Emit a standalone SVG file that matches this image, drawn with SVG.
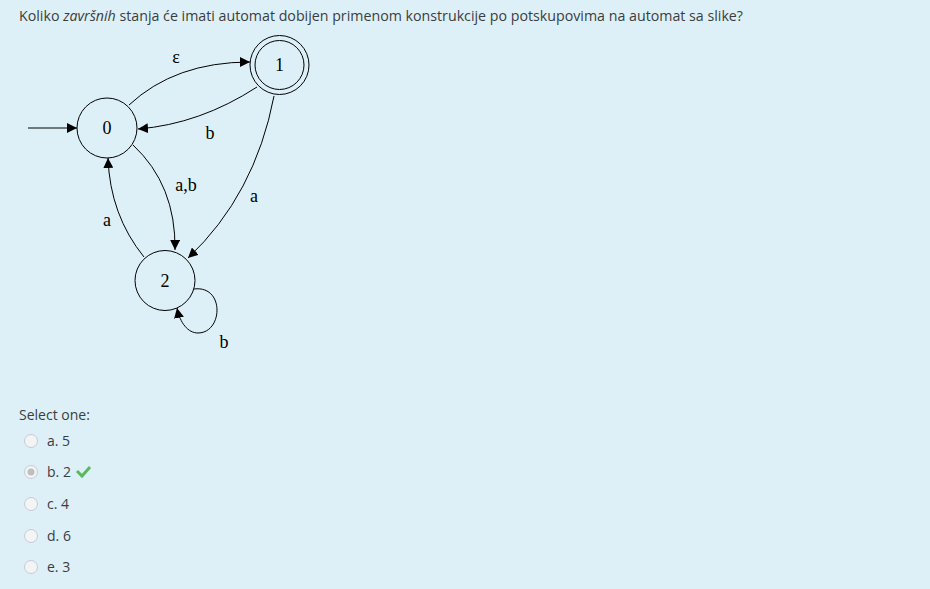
<svg xmlns="http://www.w3.org/2000/svg" width="930" height="589" viewBox="0 0 930 589">
<defs>
<marker id="ah" viewBox="0 0 10 10" refX="10" refY="5" markerWidth="10" markerHeight="10" markerUnits="userSpaceOnUse" orient="auto">
<path d="M0,0 L10,5 L0,10 z" fill="#000"/>
</marker>
</defs>
<style>
.ui{font-family:"Open Sans","Noto Sans","Liberation Sans",sans-serif;fill:#3a3d40}
.st{fill:none;stroke:#000;stroke-width:1}
.lb{font-family:"Liberation Serif","DejaVu Serif",serif;font-size:18px;fill:#000;text-anchor:middle}
.ed{fill:none;stroke:#000;stroke-width:1;marker-end:url(#ah)}
.rd{fill:#f2f4f5;stroke:#c8cbcd;stroke-width:1}
</style>
<rect x="0" y="0" width="930" height="589" fill="#def0f7"/>
<text class="ui" x="19" y="21" font-size="14" textLength="724" lengthAdjust="spacingAndGlyphs">Koliko <tspan font-style="italic">završnih</tspan> stanja će imati automat dobijen primenom konstrukcije po potskupovima na automat sa slike?</text>
<g id="edges">
<path class="ed" d="M28,128 L77,128"/>
<path class="ed" d="M129,105 Q175,62 250,62"/>
<text class="lb" x="176" y="63">ε</text>
<path class="ed" d="M257,87 Q200,124 138,129"/>
<text class="lb" x="210" y="139">b</text>
<path class="ed" d="M133,145 Q176,185 175,250"/>
<text class="lb" x="186" y="191">a,b</text>
<path class="ed" d="M144,257 Q110,215 108,158"/>
<text class="lb" x="107" y="226">a</text>
<path class="ed" d="M274,96 Q255,195 188,258"/>
<text class="lb" x="254" y="202">a</text>
<path class="ed" d="M194,289 C225,285 223,333 198,333 C188,333 180,323 177,308"/>
<text class="lb" x="224" y="348">b</text>
</g>
<g id="node0">
<circle class="st" cx="107" cy="128" r="30"/>
<text class="lb" x="107" y="134">0</text>
</g>
<g id="node1">
<circle class="st" cx="279.5" cy="65" r="29.5"/>
<circle class="st" cx="279.5" cy="65" r="24.5"/>
<text class="lb" x="279.5" y="71">1</text>
</g>
<g id="node2">
<circle class="st" cx="165" cy="280.5" r="30"/>
<text class="lb" x="165" y="287">2</text>
</g>
<text class="ui" x="19" y="420" font-size="14">Select one:</text>
<circle class="rd" cx="31" cy="441" r="6.5"/>
<text class="ui" x="47" y="446" font-size="14">a. 5</text>
<circle class="rd" cx="31" cy="472" r="6.5"/>
<circle cx="31" cy="472" r="3.5" fill="#bcc0c3"/>
<text class="ui" x="47" y="477" font-size="14">b. 2</text>
<path d="M77,471 L82,476 L90,467" fill="none" stroke="#5cb85c" stroke-width="3"/>
<circle class="rd" cx="31" cy="504" r="6.5"/>
<text class="ui" x="47" y="509" font-size="14">c. 4</text>
<circle class="rd" cx="31" cy="536" r="6.5"/>
<text class="ui" x="47" y="541" font-size="14">d. 6</text>
<circle class="rd" cx="31" cy="567" r="6.5"/>
<text class="ui" x="47" y="572" font-size="14">e. 3</text>
</svg>
